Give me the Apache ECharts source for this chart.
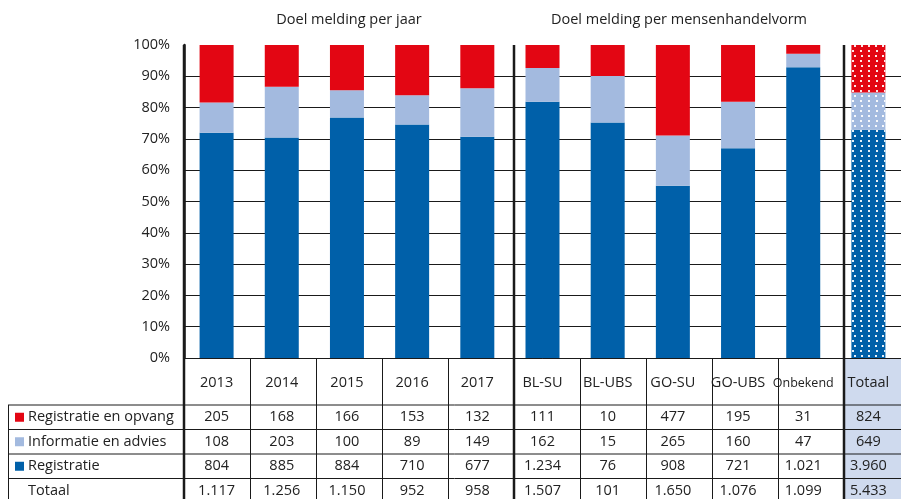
<!DOCTYPE html>
<meta charset="utf-8">
<title>Doel melding</title>
<style>
  html, body { margin: 0; padding: 0; background: #fff; }
  #main { width: 901px; height: 499px; }
</style>
<body>
<div id="main"></div>
<script src="https://cdn.jsdelivr.net/npm/echarts@6/dist/echarts.min.js"></script>
<script>
// data
var categories = ['2013', '2014', '2015', '2016', '2017', 'BL-SU', 'BL-UBS', 'GO-SU', 'GO-UBS', 'Onbekend', 'Totaal'];
var opvang      = [205, 168, 166, 153, 132, 111, 10, 477, 195, 31, 824];
var advies      = [108, 203, 100, 89, 149, 162, 15, 265, 160, 47, 649];
var registratie = [804, 885, 884, 710, 677, 1234, 76, 908, 721, 1021, 3960];
var totaal      = [1117, 1256, 1150, 952, 958, 1507, 101, 1650, 1076, 1099, 5433];
var yTicks = [0, 10, 20, 30, 40, 50, 60, 70, 80, 90, 100];

var FONT = 'Open Sans', FS = 14.5;
var L = 184, CW = 66, TOP = 45, PH = 313, BASE = TOP + PH;
var ROW = [417, 441.5, 466, 490.5];   // table row text centres
var LINE = '#1a1a1a';
var RED = '#e30613', LBLUE = '#a3badf', DBLUE = '#0060a9';

function fmt(n) { return String(n).replace(/\B(?=(\d{3})+(?!\d))/g, '.'); }
function pct(arr) { return arr.map(function (v, i) { return v / totaal[i] * 100; }); }

var dots = {
  symbol: 'rect', symbolSize: 1,
  dashArrayX: [[2, 4.5], [0, 3.25, 2, 1.25]],
  dashArrayY: [2, 2.3],
  color: 'rgba(255,255,255,0.9)'
};
function withDecal(arr, color) {
  return pct(arr).map(function (v, i) {
    if (i === categories.length - 1) return { value: v, itemStyle: { color: color, decal: dots } };
    return v;
  });
}

var labelBase = { fontFamily: FONT, fontSize: FS, color: '#222', interval: 0 };

function rowAxis(values, offset) {
  return {
    type: 'category', gridIndex: 0, data: categories, position: 'bottom', offset: offset,
    axisLine: { show: false }, axisTick: { show: false }, splitLine: { show: false },
    axisLabel: Object.assign({}, labelBase, {
      margin: 0, verticalAlign: 'middle',
      formatter: function (v, i) { return fmt(values[i]); }
    })
  };
}

// graphic decoration: table lines, totaal background, group titles
var font = FS + 'px "' + FONT + '"';
var graphics = [];
graphics.push({ type: 'rect', z: -1, shape: { x: L + 10 * CW, y: BASE, width: CW, height: 499 - BASE }, style: { fill: '#cfdaee' } });
[0, 5, 10].forEach(function (k) {
  graphics.push({ type: 'line', z: 100, shape: { x1: L + k * CW, y1: TOP, x2: L + k * CW, y2: 499 }, style: { stroke: LINE, lineWidth: 2.5 } });
});
[1, 2, 3, 4, 6, 7, 8, 9].forEach(function (k) {
  graphics.push({ type: 'line', z: 100, shape: { x1: L + k * CW + 0.5, y1: BASE, x2: L + k * CW + 0.5, y2: 499 }, style: { stroke: LINE, lineWidth: 1 } });
});
[405, 429.5, 454, 478.5].forEach(function (y) {
  graphics.push({ type: 'line', z: 100, shape: { x1: 8, y1: y, x2: 901, y2: y }, style: { stroke: LINE, lineWidth: 1 } });
});
graphics.push({ type: 'line', z: 100, shape: { x1: 8.5, y1: 405, x2: 8.5, y2: 499 }, style: { stroke: LINE, lineWidth: 1 } });
graphics.push({ type: 'text', z: 100, style: { text: 'Totaal', x: 28, y: ROW[3], verticalAlign: 'middle', font: font, fill: '#222' } });
graphics.push({ type: 'text', z: 100, style: { text: 'Doel melding per jaar', x: L + 2.5 * CW, y: 20, align: 'center', verticalAlign: 'middle', font: font, fill: '#222' } });
graphics.push({ type: 'text', z: 100, style: { text: 'Doel melding per mensenhandelvorm', x: L + 7.5 * CW, y: 20, align: 'center', verticalAlign: 'middle', font: font, fill: '#222' } });

var myChart = echarts.init(document.getElementById('main'), null, { renderer: 'canvas' });
var option = {
  animation: false,
  textStyle: { fontFamily: FONT },
  grid: { left: L, top: TOP, width: CW * categories.length, height: PH, containLabel: false },
  legend: {
    orient: 'vertical', left: 15, top: 405, padding: 0, itemGap: 0,
    itemWidth: 9, itemHeight: 9, icon: 'rect',
    data: ['Registratie en opvang', 'Informatie en advies', 'Registratie'],
    textStyle: { fontFamily: FONT, fontSize: FS, color: '#222', lineHeight: 24.5, padding: [0, 0, 0, -1] }
  },
  xAxis: [
    {
      type: 'category', gridIndex: 0, data: categories, position: 'bottom',
      axisLine: { show: true, lineStyle: { color: LINE, width: 1 } },
      axisTick: { show: false },
      axisLabel: Object.assign({}, labelBase, {
        margin: 25, verticalAlign: 'middle',
        formatter: function (v) { return v === 'Onbekend' ? '{s|' + v + '}' : v; },
        rich: { s: { fontFamily: FONT, fontSize: 12.5, color: '#222' } }
      })
    },
    rowAxis(opvang, ROW[0] - BASE),
    rowAxis(advies, ROW[1] - BASE),
    rowAxis(registratie, ROW[2] - BASE),
    rowAxis(totaal, ROW[3] - BASE)
  ],
  yAxis: {
    type: 'value', min: 0, max: 100, interval: 10,
    axisLine: { show: true, lineStyle: { color: LINE, width: 2.5 } },
    axisTick: { show: false },
    axisLabel: Object.assign({}, labelBase, {
      margin: 14,
      formatter: function (v) { return yTicks.indexOf(v) >= 0 ? v + '%' : ''; }
    }),
    splitLine: { show: true, showMaxLine: false, lineStyle: { color: LINE, width: 1 } }
  },
  series: [
    { name: 'Registratie', type: 'bar', stack: 'a', barWidth: 34, itemStyle: { color: DBLUE }, data: withDecal(registratie, DBLUE) },
    { name: 'Informatie en advies', type: 'bar', stack: 'a', barWidth: 34, itemStyle: { color: LBLUE }, data: withDecal(advies, LBLUE) },
    { name: 'Registratie en opvang', type: 'bar', stack: 'a', barWidth: 34, itemStyle: { color: RED }, data: withDecal(opvang, RED) }
  ],
  graphic: graphics
};
myChart.setOption(option);
</script>
</body>
